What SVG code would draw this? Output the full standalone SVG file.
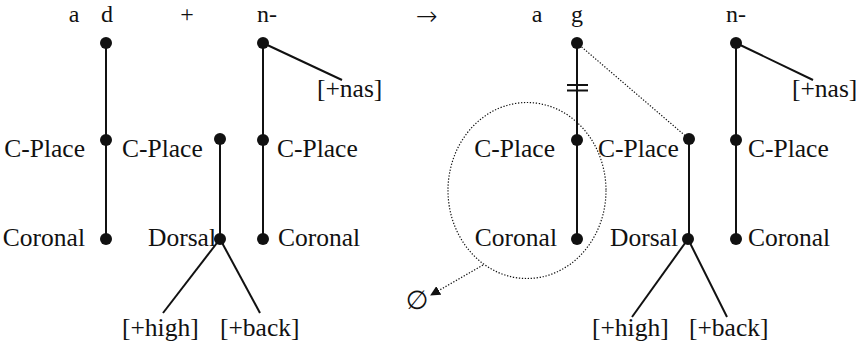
<svg xmlns="http://www.w3.org/2000/svg" width="863" height="347" viewBox="0 0 863 347">
<defs>
<style>
text{font-family:"Liberation Serif","Times New Roman",serif;fill:#111;font-size:25.5px}
.top{font-size:24px}
.e{text-anchor:end}
.m{text-anchor:middle}
.ln{stroke:#111;stroke-width:2;fill:none}
.dot{stroke:#111;stroke-width:1.2;stroke-dasharray:1.3 1.7;fill:none}
.nd{fill:#111}
</style>
<marker id="ah" viewBox="0 0 10 10" refX="9" refY="5" markerWidth="10" markerHeight="10" markerUnits="userSpaceOnUse" orient="auto">
<path d="M0,0 L10,5 L0,10 Z" fill="#111"/>
</marker>
</defs>
<rect width="863" height="347" fill="#fff"/>

<g id="segments">
<text class="top m" x="74" y="22">a</text>
<text class="top m" x="107" y="22">d</text>
<text class="top m" x="187" y="22">+</text>
<text class="top" x="257" y="22">n-</text>
<text class="top m" x="427" y="25" style="font-family:'Noto Sans','DejaVu Sans',sans-serif;font-size:26px;font-weight:300">→</text>
<text class="top m" x="537" y="22">a</text>
<text class="top m" x="577" y="22">g</text>
<text class="top" x="726" y="22">n-</text>
</g>

<g id="connectors">
<line class="ln" x1="106" y1="43" x2="106" y2="239"/>
<line class="ln" x1="220" y1="139" x2="220" y2="239"/>
<line class="ln" x1="263" y1="43" x2="263" y2="239"/>
<line class="ln" x1="263" y1="43" x2="342" y2="80" stroke-width="1.6"/>
<line class="ln" x1="220" y1="239" x2="163" y2="313" stroke-width="1.6"/>
<line class="ln" x1="220" y1="239" x2="260" y2="313" stroke-width="1.6"/>
<line class="ln" x1="577" y1="43" x2="577" y2="239"/>
<line class="ln" x1="689" y1="139" x2="689" y2="239"/>
<line class="ln" x1="736" y1="43" x2="736" y2="239"/>
<line class="ln" x1="736" y1="43" x2="813" y2="80" stroke-width="1.6"/>
<line class="ln" x1="688" y1="239" x2="632" y2="317" stroke-width="1.6"/>
<line class="ln" x1="688" y1="239" x2="727" y2="317" stroke-width="1.6"/>
<line class="ln" x1="567" y1="85" x2="588" y2="85" stroke-width="1.5"/>
<line class="ln" x1="567" y1="90.5" x2="588" y2="90.5" stroke-width="1.5"/>
<line class="dot" x1="577" y1="43" x2="689" y2="139"/>
<ellipse class="dot" cx="527" cy="190.5" rx="79" ry="88"/>
<line class="dot" x1="483" y1="265" x2="431" y2="295" marker-end="url(#ah)"/>
</g>

<g id="left-d-root"><circle class="nd" cx="106" cy="43" r="6"/></g>
<g id="left-d-cplace"><circle class="nd" cx="106" cy="140" r="6"/><text class="e" x="85" y="157">C-Place</text></g>
<g id="left-d-coronal"><circle class="nd" cx="106" cy="239" r="6"/><text class="e" x="85" y="246">Coronal</text></g>
<g id="left-x-cplace"><circle class="nd" cx="220" cy="139" r="6"/><text x="122" y="157">C-Place</text></g>
<g id="left-x-dorsal"><circle class="nd" cx="220" cy="239" r="6"/><text class="e" x="216" y="246">Dorsal</text></g>
<g id="left-high"><text x="122" y="336">[+high]</text></g>
<g id="left-back"><text x="220" y="336">[+back]</text></g>
<g id="left-n-root"><circle class="nd" cx="263" cy="43" r="6"/></g>
<g id="left-nas"><text x="317" y="97">[+nas]</text></g>
<g id="left-n-cplace"><circle class="nd" cx="263" cy="140" r="6"/><text x="277" y="157">C-Place</text></g>
<g id="left-n-coronal"><circle class="nd" cx="263" cy="239" r="6"/><text x="278" y="246">Coronal</text></g>

<g id="right-g-root"><circle class="nd" cx="577" cy="43" r="6"/></g>
<g id="right-g-cplace"><circle class="nd" cx="577" cy="140" r="6"/><text class="e" x="555" y="157">C-Place</text></g>
<g id="right-g-coronal"><circle class="nd" cx="577" cy="239" r="6"/><text class="e" x="557" y="246">Coronal</text></g>
<g id="right-x-cplace"><circle class="nd" cx="689" cy="139" r="6"/><text x="598" y="157">C-Place</text></g>
<g id="right-x-dorsal"><circle class="nd" cx="688" cy="239" r="6"/><text class="e" x="678" y="246">Dorsal</text></g>
<g id="right-high"><text x="592" y="336">[+high]</text></g>
<g id="right-back"><text x="689" y="336">[+back]</text></g>
<g id="right-n-root"><circle class="nd" cx="736" cy="43" r="6"/></g>
<g id="right-nas"><text x="792" y="97">[+nas]</text></g>
<g id="right-n-cplace"><circle class="nd" cx="736" cy="140" r="6"/><text x="748" y="157">C-Place</text></g>
<g id="right-n-coronal"><circle class="nd" cx="736" cy="239" r="6"/><text x="748" y="246">Coronal</text></g>
<g id="null"><text class="m" x="417" y="309" style="font-family:'DejaVu Sans',sans-serif;font-size:26px">∅</text></g>
</svg>
